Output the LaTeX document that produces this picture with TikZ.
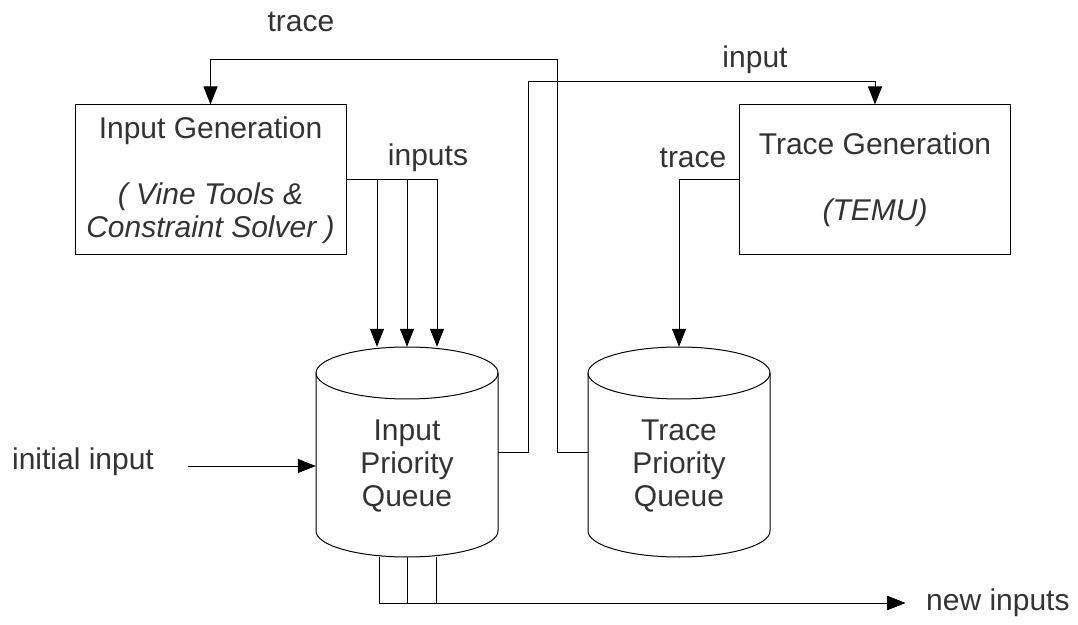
\documentclass[tikz,border=0pt]{standalone}
\usepackage{fontspec}
\setmainfont{Liberation Sans}
\definecolor{textgray}{RGB}{51,51,51}
\tikzset{every picture/.style={/utils/exec={\fontsize{30}{33}\selectfont}}}
\usetikzlibrary{calc}
\usetikzlibrary{arrows.meta}
\newcommand{\queueShape}[1]{
  \draw [line width=1pt] ($(#1.center)+(0,79)$) ellipse [x radius=91pt, y radius=26pt];
  \draw [line width=1pt] ($(#1.center)+(-91,79)$) -- ++(0,-158)
    arc [start angle=180, end angle=360, x radius=91pt, y radius=26pt] -- ++(0,158);
}

\begin{document}
\begin{tikzpicture}[x=1pt, y=1pt, >={Triangle[length=18pt,width=14pt]},
  box/.style={draw, line width=1pt, minimum width=271pt, minimum height=150pt, align=center, text=textgray},
  queue/.style={minimum width=182pt, minimum height=210pt, inner sep=0pt},
  lbl/.style={text=textgray},
  line/.style={line width=1pt}]
  \useasboundingbox (0,0) rectangle (1078,624);

  \node [box] (ingen) at (210.5,444) {Input Generation\\[33pt] \textit{( Vine Tools \&}\\ \textit{Constraint Solver )}};
  \node [box] (trgen) at (875,444) {Trace Generation\\[33pt] \textit{(TEMU)}};

  \node [queue] (inq) at (407,172) {};
  \node [queue] (trq) at (679,172) {};
  \queueShape{inq}
  \queueShape{trq}
  \node [lbl, align=center] (inqtext) at (407,158) {Input\\Priority\\Queue};
  \node [lbl, align=center] (trqtext) at (679,158) {Trace\\Priority\\Queue};

  \begin{scope}[every node/.style={lbl}]
    \node (tracetop) at (301,602) {trace};
    \node (inputlbl) at (755,564) {input};
    \node (inputslbl) at (428,466) {inputs};
    \node (tracelbl) at (693,466) {trace};
    \node (init) at (83,162) {initial input};
    \node [anchor=west, inner xsep=21pt] (newin) at (905,21) {new inputs};
  \end{scope}

  % feedback loops between the queues and the generators
  \draw [line, ->] (trq.west) -- ++(-30,0) |- ($(ingen.north)+(0,45)$) -- (ingen.north);
  \draw [line, ->] (inq.east) -- ++(30,0) |- ($(trgen.north)+(0,23)$) -- (trgen.north);
  \draw [line, ->] (trgen.west) -| (trq.north);

  \foreach \dx in {-30,0,30} {
    \draw [line, ->] (ingen.east) -| ($(inq.north)+(\dx,0)$);
  }
  \foreach \dx in {-28,0,29} {
    \draw [line, ->] ($(inq.south)+(\dx,0)$) |- (newin.west);
  }

  \coordinate (initstart) at ($(init.east)+(24,-4)$);
  \draw [line, ->] (initstart) -- (initstart -| inq.west);
\end{tikzpicture}
\end{document}
